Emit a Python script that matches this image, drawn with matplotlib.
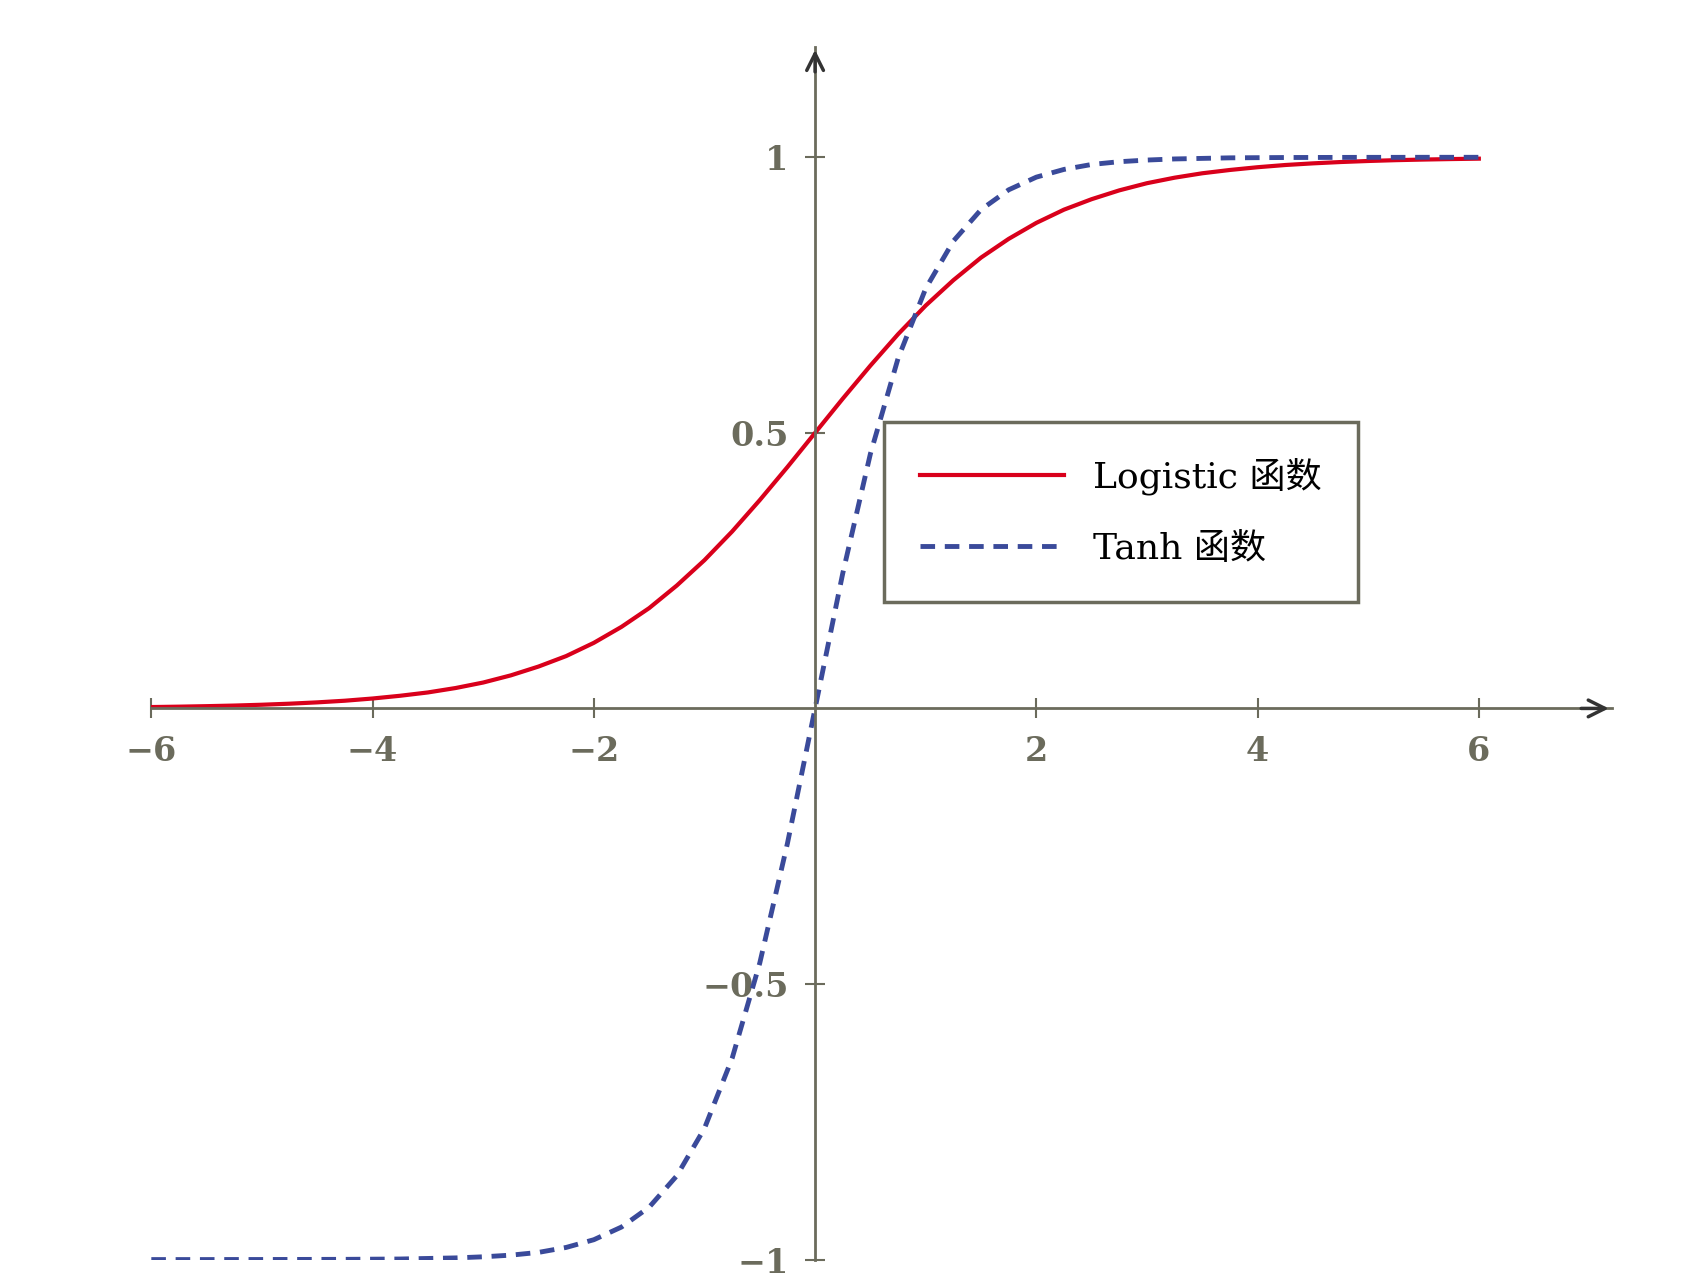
import matplotlib.pyplot as plt

# values, x from -6 to 6 in steps of 0.25
x_vals = [-6 + 0.25 * i for i in range(49)]
logistic_half = [0.0025, 0.0032, 0.0041, 0.0052, 0.0067, 0.0086, 0.011, 0.014,
                 0.018, 0.023, 0.029, 0.037, 0.047, 0.060, 0.076, 0.095,
                 0.119, 0.148, 0.182, 0.223, 0.269, 0.321, 0.378, 0.438]
logistic_vals = logistic_half + [0.5] + [round(1 - v, 4) for v in reversed(logistic_half)]
tanh_half = [0.245, 0.462, 0.635, 0.762, 0.848, 0.905, 0.941, 0.964, 0.978, 0.987,
             0.992, 0.995, 0.997, 0.998, 0.999, 0.9993, 0.9996, 0.9997, 0.9998,
             0.9999, 0.9999, 1.0, 1.0, 1.0]
tanh_vals = [-v for v in reversed(tanh_half)] + [0.0] + tanh_half

x_ticks = [-6, -4, -2, 2, 4, 6]
y_ticks = [-1, -0.5, 0.5, 1]
y_labels = ["\u22121", "\u22120.5", "0.5", "1"]

AXIS_COLOR = "#6b6b5c"
plt.rcParams["font.family"] = ["DejaVu Serif", "Noto Sans CJK SC"]

fig = plt.figure(figsize=(16.87, 12.79), dpi=100)
ax = fig.add_axes([0.0897, 0.0152, 0.8656, 0.948])
ax.set_xlim(-6, 7.2)
ax.set_ylim(-1, 1.2)

ax.plot(x_vals, logistic_vals, color="#d9001b", linewidth=3, label="Logistic 函数")
ax.plot(x_vals, tanh_vals, color="#3a4a9a", linewidth=3.5, linestyle=(0, (3, 2)),
        label="Tanh 函数")

for s in ["top", "right"]:
    ax.spines[s].set_visible(False)
ax.spines["left"].set_position(("data", 0))
ax.spines["bottom"].set_position(("data", 0))
for s in ["left", "bottom"]:
    ax.spines[s].set_color(AXIS_COLOR)
    ax.spines[s].set_linewidth(2)

ax.annotate("", xy=(7.2, 0), xytext=(6.9, 0),
            arrowprops=dict(arrowstyle="->", color="#333333", lw=2.5, mutation_scale=30))
ax.annotate("", xy=(0, 1.2), xytext=(0, 1.15),
            arrowprops=dict(arrowstyle="->", color="#333333", lw=2.5, mutation_scale=30))

ax.set_xticks(x_ticks)
ax.set_xticklabels([str(t).replace("-", "\u2212") for t in x_ticks])
ax.set_yticks(y_ticks)
ax.set_yticklabels(y_labels)
ax.tick_params(direction="inout", length=14, width=1.5, color=AXIS_COLOR,
               labelcolor=AXIS_COLOR, labelsize=24, pad=12)
for lbl in ax.get_xticklabels() + ax.get_yticklabels():
    lbl.set_fontweight("bold")

leg = ax.legend(loc="upper left", bbox_to_anchor=(0.62, 0.52),
                bbox_transform=ax.transData, fontsize=26, fancybox=False,
                edgecolor=AXIS_COLOR, handlelength=4, borderpad=1.0,
                labelspacing=1.0, borderaxespad=0, framealpha=1)
leg.get_frame().set_linewidth(2.5)

fig.savefig("out.png", dpi=100)
